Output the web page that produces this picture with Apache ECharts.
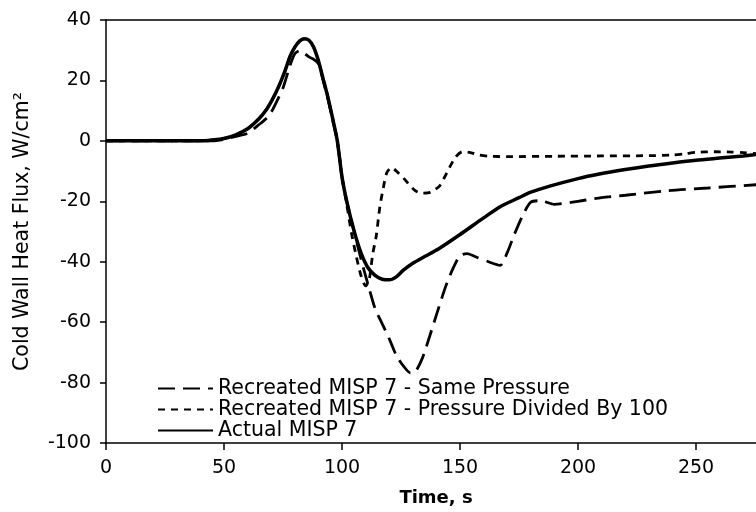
<!DOCTYPE html>
<html>
<head>
<meta charset="utf-8">
<script src="https://cdn.jsdelivr.net/npm/echarts@6/dist/echarts.min.js"></script>
<style>html,body{margin:0;padding:0;background:#fff;}#c{width:756px;height:512px;}</style>
</head>
<body>
<div id="c"></div>
<script>
const seriesNames = ["Recreated MISP 7 - Same Pressure", "Recreated MISP 7 - Pressure Divided By 100", "Actual MISP 7"];
const xTicks = [0, 50, 100, 150, 200, 250];
const yTicks = [-100, -80, -60, -40, -20, 0, 20, 40];

const tActual = [0,40,45,50,55,60,65,68,70,72,74,76,78,80,82,84,86,88,90,92,94,96,98,100,102,105,108,111,114,117,120,123,126,130,135,141,150,160,167,175,180,188,200,209,220,230,240,250,260,270,276];
const fActual = [0,0,0.3,0.8,2,4,7.5,10.4,13,16,19.5,23.5,28,31,33,33.8,33.3,31,26.5,20.5,14.5,7.5,0,-12,-20,-29.5,-37,-42,-44.5,-45.8,-46,-45,-42.8,-40.5,-38.3,-35.7,-31,-25.5,-21.8,-18.8,-17,-15,-12.5,-11,-9.5,-8.3,-7.3,-6.4,-5.7,-5,-4.5];

const tSame = [0,45,50,55,60,65,68,70,72,75,78,80,82,84,86,88,90,92,94,96,98,100,102,105,108,111,114,117,120,123,126,129,131,134,137,140,144,147,150,153,157,162,167,170,173,177,180,184,190,200,210,220,238,255,276];
const fSame = [0,0,0.5,1.5,2.5,5.5,7.5,9.5,12.5,17.5,25,28.8,29.8,29,27.8,27,25.5,20,14,7,0,-12,-20,-29.5,-39,-47.5,-55.5,-60.5,-65.5,-71,-74.5,-76.8,-76.5,-72,-65,-57.6,-48,-42.3,-38,-37.3,-38.5,-40,-41.2,-37,-31,-24,-20.3,-19.8,-21,-20,-18.8,-18,-16.5,-15.6,-14.5];

const tDiv = [0,40,45,50,55,60,65,68,70,72,74,76,78,80,82,84,86,88,90,92,94,96,98,100,102,104,106,108,110,111.5,113,114.5,116,117.5,119,121,123,126,131,134,137.5,141.5,144.5,148,151,154,158,162,170,190,210,230,240,245,250,258,265,270,276];
const fDiv = [0,0,0.3,0.8,2,4,7.5,10.4,13,16,19.5,23.5,28,31,33,33.8,33.3,31,26.5,20.5,14.5,7.5,0,-12,-21,-30.5,-38,-44.5,-48,-46,-37.5,-31.5,-22,-15.5,-10.5,-8.8,-10,-12.3,-16.5,-17.3,-17,-14.8,-10.4,-5.5,-3.6,-3.8,-4.7,-5.1,-5.2,-5.1,-5,-4.9,-4.7,-4.3,-3.8,-3.6,-3.7,-3.9,-4.3];

function pairs(t, v) { return t.map((x, i) => [x, v[i]]); }

const FONT = "DejaVu Sans";
const chart = echarts.init(document.getElementById('c'), null, {renderer: 'canvas'});
chart.setOption({
  animation: false,
  backgroundColor: '#fff',
  grid: {left: 106, right: 0, top: 20, bottom: 67, containLabel: false},
  legend: {
    orient: 'vertical', left: 157, top: 378, padding: 0, itemGap: 0,
    itemWidth: 55, itemHeight: 10,
    data: seriesNames,
    itemStyle: {opacity: 0},
    textStyle: {fontFamily: FONT, fontSize: 20.5, color: '#000', lineHeight: 20}
  },
  xAxis: [{
    type: 'value', min: xTicks[0], max: 275.4, interval: 50,
    axisLine: {onZero: false, lineStyle: {color: '#000', width: 1.5}},
    axisTick: {show: true, length: 7, lineStyle: {color: '#000', width: 1.5},
      customValues: xTicks},
    axisLabel: {fontFamily: FONT, fontSize: 19, color: '#000', margin: 16,
      customValues: xTicks},
    splitLine: {show: false},
    name: 'Time, s', nameLocation: 'middle', nameGap: 46,
    nameTextStyle: {fontFamily: FONT, fontSize: 18, fontWeight: 'bold', color: '#000', padding: [0, 0, 0, 10]}
  }, {
    type: 'value', position: 'top', min: 0, max: 275.4,
    axisLine: {show: true, onZero: false, lineStyle: {color: '#000', width: 1.5}},
    axisTick: {show: false}, axisLabel: {show: false}, splitLine: {show: false}
  }],
  yAxis: {
    type: 'value', min: yTicks[0], max: yTicks[yTicks.length - 1], interval: 20,
    axisLine: {show: true, onZero: false, lineStyle: {color: '#000', width: 1.5}},
    axisTick: {show: true, length: 6, lineStyle: {color: '#000', width: 1.5}},
    axisLabel: {fontFamily: FONT, fontSize: 19, color: '#000', margin: 15},
    splitLine: {show: false},
    name: 'Cold Wall Heat Flux, W/cm²', nameLocation: 'middle', nameGap: 73,
    nameTextStyle: {fontFamily: FONT, fontSize: 20.5, color: '#000'}
  },
  series: [{
    name: seriesNames[0], type: 'line', xAxisIndex: 0, data: pairs(tSame, fSame),
    showSymbol: false, symbol: 'none', smooth: 0.25, clip: true,
    lineStyle: {color: '#000', width: 2.8, type: [17, 8]}, itemStyle: {color: '#000'}, z: 3
  }, {
    name: seriesNames[1], type: 'line', xAxisIndex: 0, data: pairs(tDiv, fDiv),
    showSymbol: false, symbol: 'none', smooth: 0.25, clip: true,
    lineStyle: {color: '#000', width: 2.8, type: [7, 6]}, itemStyle: {color: '#000'}, z: 3
  }, {
    name: seriesNames[2], type: 'line', xAxisIndex: 0, data: pairs(tActual, fActual),
    showSymbol: false, symbol: 'none', smooth: 0.25, clip: true,
    lineStyle: {color: '#000', width: 3.5, type: 'solid'}, itemStyle: {color: '#000'}, z: 4
  }]
});
</script>
</body>
</html>
